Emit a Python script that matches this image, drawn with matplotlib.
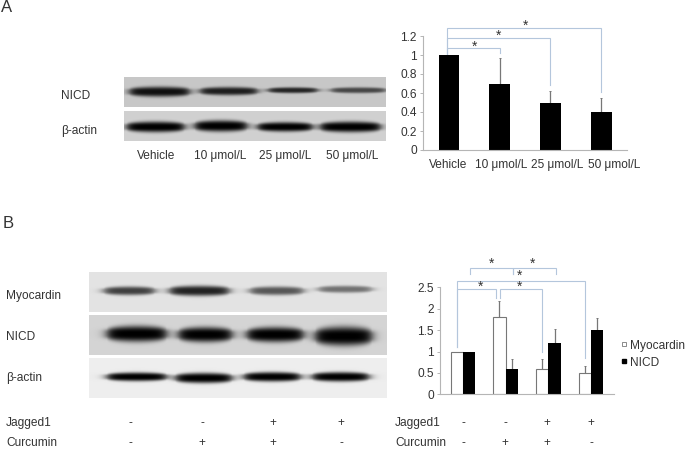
import numpy as np
import matplotlib
matplotlib.use("Agg")
import matplotlib.pyplot as plt
from matplotlib.lines import Line2D

plt.rcParams['font.family'] = ['Liberation Sans', 'DejaVu Sans']

W, H = 685, 449
TXT = '#333333'
AX = '#b5b5b5'
BR = '#b4c6dc'
FS = 8.6

# ---------- data ----------
a_categories = ['Vehicle', '10 \u03bcmol/L', '25 \u03bcmol/L', '50 \u03bcmol/L']
a_values = [1.0, 0.7, 0.5, 0.4]
a_err = [0.0, 0.27, 0.12, 0.15]
a_ticks = [0, 0.2, 0.4, 0.6, 0.8, 1, 1.2]
a_ticklabels = ['0', '0.2', '0.4', '0.6', '0.8', '1', '1.2']

b_myocardin = [1.0, 1.8, 0.6, 0.5]
b_myocardin_err = [0.0, 0.38, 0.22, 0.16]
b_nicd = [1.0, 0.6, 1.2, 1.5]
b_nicd_err = [0.0, 0.23, 0.33, 0.29]
b_ticks = [0, 0.5, 1, 1.5, 2, 2.5]
b_ticklabels = ['0', '0.5', '1', '1.5', '2', '2.5']
jagged1 = ['-', '-', '+', '+']
curcumin = ['-', '+', '+', '-']

# blot bands: (x start, x end, centre y, half thickness) as fractions of each panel, and darkness
blot_a_nicd = [(.02, .25, .49, .17, .92), (.29, .51, .47, .14, .85), (.55, .74, .44, .10, .82), (.79, 1.0, .44, .10, .65)]
blot_a_actin = [(.01, .23, .53, .18, 1.0), (.27, .47, .50, .19, 1.0), (.51, .72, .53, .16, 1.0), (.75, .98, .53, .18, 1.0)]
blot_b_myo = [(.05, .22, .47, .11, .72), (.27, .47, .47, .13, .85), (.54, .72, .47, .11, .62), (.77, .95, .43, .09, .50)]
blot_b_nicd = [(.06, .26, .47, .20, 1.0), (.30, .48, .49, .19, 1.0), (.53, .72, .49, .19, 1.0), (.76, .95, .53, .24, 1.0)]
blot_b_actin = [(.06, .26, .47, .11, 1.0), (.29, .48, .50, .13, 1.0), (.52, .71, .47, .12, 1.0), (.75, .94, .47, .12, 1.0)]


def box(px0, py0, px1, py1):
    return [px0 / W, 1 - py1 / H, (px1 - px0) / W, (py1 - py0) / H]


fig = plt.figure(figsize=(W / 100, H / 100), dpi=100)


def blot(rect, bands, bg):
    ax = fig.add_axes(box(*rect))
    nx, ny = int(rect[2] - rect[0]) * 2, int(rect[3] - rect[1]) * 2
    x = np.linspace(0, 1, nx)
    y = np.linspace(0, 1, ny)
    X, Y = np.meshgrid(x, y)
    img = np.full_like(X, bg, dtype=float)
    for (x0, x1, yc, th, d) in bands:
        edge = 0.010
        mask = (1 / (1 + np.exp(-(X - x0) / edge))) * (1 / (1 + np.exp((X - x1) / edge)))
        # bands taper towards their ends
        u = np.clip((X - x0) / (x1 - x0), 0.0, 1.0)
        taper = 0.6 + 0.4 * np.sin(np.pi * u) ** 0.5
        img = img * (1 - d * mask * np.exp(-(np.abs(Y - yc) / (th * taper)) ** 3))
    ax.imshow(img, cmap='gray', vmin=0, vmax=1, aspect='auto', interpolation='bilinear')
    ax.axis('off')


blot((124, 77, 386, 107), blot_a_nicd, 0.78)
blot((124, 111, 386, 141), blot_a_actin, 0.82)
blot((89, 272, 387, 312), blot_b_myo, 0.89)
blot((89, 315, 387, 355), blot_b_nicd, 0.83)
blot((89, 358, 387, 398), blot_b_actin, 0.93)


def style(ax):
    for s in ('top', 'right'):
        ax.spines[s].set_visible(False)
    for s in ('left', 'bottom'):
        ax.spines[s].set_color(AX)
        ax.spines[s].set_linewidth(0.8)
    ax.tick_params(axis='y', length=2.5, width=0.7, color=AX, labelsize=FS,
                   labelcolor=TXT, pad=2)
    ax.tick_params(axis='x', length=0)
    ax.patch.set_alpha(0)


def bracket(ax, x0, x1, top, y0, y1):
    ax.plot([x0, x0, x1, x1], [y0, top, top, y1], color=BR, lw=0.8, clip_on=False,
            solid_joinstyle='miter', zorder=1)


def star(ax, x, y):
    ax.text(x, y, '*', ha='center', va='center', fontsize=10, color=TXT, clip_on=False)


# ---------- chart A ----------
axa = fig.add_axes(box(423, 36, 627, 150))
xa = np.arange(len(a_values))
axa.bar(xa, a_values, width=0.41, color='black', zorder=2)
axa.errorbar(xa[1:], a_values[1:], yerr=[[0] * 3, a_err[1:]], fmt='none', ecolor='#777777',
             elinewidth=0.9, capsize=1, capthick=0.7, zorder=1)
axa.set_xlim(-0.513, 3.51)
axa.set_ylim(0, 1.2)
axa.set_yticks(a_ticks, a_ticklabels)
axa.set_xticks([])
style(axa)
bracket(axa, -0.04, 3.0, 1.284, 1.0, 0.61)
bracket(axa, -0.04, 2.0, 1.178, 1.0, 0.68)
bracket(axa, -0.04, 1.0, 1.074, 1.0, 1.02)
star(axa, 1.5, 1.31)
star(axa, 0.97, 1.20)
star(axa, 0.5, 1.09)

# ---------- chart B ----------
axb = fig.add_axes(box(440, 287.3, 614, 394.3))
xb = np.arange(len(b_nicd))
bw = 0.29
axb.bar(xb - bw / 2, b_myocardin, width=bw, facecolor='white', edgecolor='#777777',
        linewidth=0.8, zorder=2)
axb.bar(xb + bw / 2, b_nicd, width=bw, color='black', zorder=2)
axb.errorbar(xb[1:] - bw / 2, b_myocardin[1:], yerr=[[0] * 3, b_myocardin_err[1:]], fmt='none',
             ecolor='#777777', elinewidth=0.9, capsize=1, capthick=0.7, zorder=1)
axb.errorbar(xb[1:] + bw / 2, b_nicd[1:], yerr=[[0] * 3, b_nicd_err[1:]], fmt='none',
             ecolor='#777777', elinewidth=0.9, capsize=1, capthick=0.7, zorder=1)
axb.set_xlim(-0.54, 3.54)
axb.set_ylim(0, 2.5)
axb.set_yticks(b_ticks, b_ticklabels)
axb.set_xticks([])
style(axb)
bracket(axb, 0.16, 1.16, 2.95, 2.8, 2.8)
bracket(axb, 1.16, 2.17, 2.95, 2.8, 2.8)
bracket(axb, -0.15, 2.86, 2.65, 1.1, 0.85)
bracket(axb, -0.15, 0.78, 2.45, 1.1, 2.24)
bracket(axb, 0.86, 1.84, 2.45, 2.24, 1.0)
star(axb, 0.67, 3.05)
star(axb, 1.62, 3.05)
star(axb, 1.33, 2.76)
star(axb, 0.4, 2.51)
star(axb, 1.33, 2.51)

handles = [Line2D([], [], ls='none', marker='s', ms=3, mfc='white', mec='#777777', mew=0.6),
           Line2D([], [], ls='none', marker='s', ms=3, mfc='black', mec='black')]
fig.legend(handles, ['Myocardin', 'NICD'], loc='upper left', frameon=False, fontsize=FS,
           labelcolor=TXT, bbox_to_anchor=(617 / W, 1 - 339.5 / H), borderaxespad=0, borderpad=0,
           handletextpad=0.0, handlelength=1.1, labelspacing=0.42)


# ---------- free text ----------
def t(px, py, s, ha='left', fs=FS):
    fig.text(px / W, 1 - py / H, s, ha=ha, va='center', fontsize=fs, color=TXT)


t(1, 7, 'A', fs=12)
t(3, 223, 'B', fs=12)
t(61, 96, 'NICD')
t(61, 131, '\u03b2-actin')
for px, s in zip([156, 220, 285, 352], a_categories):
    t(px, 156, s, ha='center')
for px, s in zip([448.5, 501.5, 557.5, 614], a_categories):
    t(px, 165, s, ha='center')
t(6, 296, 'Myocardin')
t(6, 337, 'NICD')
t(6, 378, '\u03b2-actin')
t(6, 423, 'Jagged1')
t(6, 443, 'Curcumin')
t(395, 423, 'Jagged1')
t(395, 443, 'Curcumin')
for px, j, c in zip([130, 202, 273, 341], jagged1, curcumin):
    t(px, 423, j, ha='center')
    t(px, 443, c, ha='center')
for px, j, c in zip([463, 505, 547, 591], jagged1, curcumin):
    t(px, 423, j, ha='center')
    t(px, 443, c, ha='center')

fig.savefig('out.png', dpi=100)
